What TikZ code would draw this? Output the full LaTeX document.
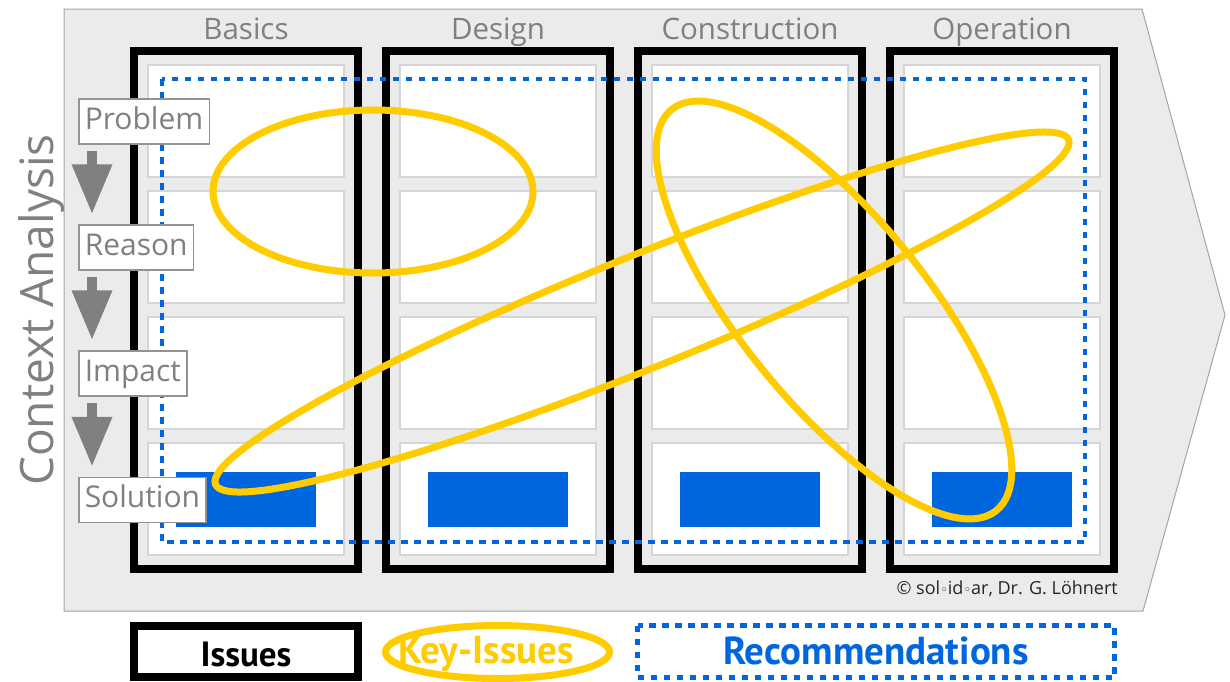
\documentclass[tikz,border=0pt]{standalone}
\usepackage{fontspec}
\setmainfont{Open Sans}
\newfontfamily\ptsans{PT Sans}
\newfontfamily\dejavu{DejaVu Sans}
\usetikzlibrary{arrows.meta,calc}
\definecolor{bggray}{RGB}{235,235,235}
\definecolor{bgline}{RGB}{165,165,165}
\definecolor{cellline}{RGB}{214,214,214}
\definecolor{txtgray}{RGB}{128,128,128}
\definecolor{keyyellow}{RGB}{255,204,0}
\definecolor{recblue}{RGB}{0,102,221}
\begin{document}
\begin{tikzpicture}[x=1pt,y=-1pt,
  title/.style={text=txtgray, font=\fontsize{29.5}{29.5}\selectfont, anchor=base, inner sep=0pt},
  stagebox/.style={draw=txtgray!85, line width=1.5pt, fill=white, text=txtgray,
    font=\fontsize{30}{30}\selectfont, minimum height=45pt, text height=22pt, text depth=7pt,
    inner xsep=6pt, inner ysep=0pt, anchor=west},
  column/.style={draw=black, line width=8pt},
  cell/.style={draw=cellline, line width=1.2pt, fill=white},
  solbox/.style={fill=recblue},
  keyell/.style={draw=keyyellow, line width=7pt},
  recline/.style={draw=recblue, line width=4.5pt, dash pattern=on 6.5pt off 6.5pt},
  flowarrow/.style={draw=txtgray, line width=10pt, -{Triangle[width=38pt,length=50pt]}},
  legendtxt/.style={font=\ptsans\bfseries, inner sep=0pt},
  ring/.style={},
]
\useasboundingbox (0,0) rectangle (1230,681);
% background arrow shape
\fill[bggray, draw=bgline, line width=1pt] (64,9) -- (1142,9) -- (1225,315) -- (1143,611) -- (64,611) -- cycle;

% columns
\foreach \t [count=\i from 0] in {Basics,Design,Construction,Operation}{
  \pgfmathsetmacro{\xo}{130+252*\i}
  \node[title] (title\i) at (\xo+116,39) {\t};
  \draw[column] (\xo+4,51) rectangle (\xo+228,569);
  \foreach \k in {0,1,2,3}{
    \pgfmathsetmacro{\yo}{65+126*\k}
    \draw[cell] (\xo+18,\yo) rectangle (\xo+214,\yo+112);
  }
  \fill[solbox] (\xo+46,472) rectangle (\xo+186,527);
}

% recommendations dotted frame
\draw[recline] (162,79) rectangle (1085,542);

% context analysis
\node[text=txtgray, font=\fontsize{46}{46}\selectfont, rotate=90, anchor=base, inner sep=0pt] (ctx) at (53,310) {Context Analysis};

% stage boxes
\node[stagebox] (prob) at (78,121.5) {Problem};
\node[stagebox] (reas) at (78,247.5) {Reason};
\node[stagebox] (imp) at (78,373.5) {Impact};
\node[stagebox] (sol) at (78,500) {Solution};
\draw[flowarrow] ($(prob.south west)+(14,6)$) -- ($(reas.north west)+(14,-10)$);
\draw[flowarrow] ($(reas.south west)+(14,6)$) -- ($(imp.north west)+(14,-10)$);
\draw[flowarrow] ($(imp.south west)+(14,6)$) -- ($(sol.north west)+(14,-10)$);

% key issue ellipses
\draw[keyell] (373,191.5) ellipse [x radius=160pt, y radius=81.5pt];
\draw[keyell, rotate around={22:(642,312)}] (642,312) ellipse [x radius=460pt, y radius=56pt];
\draw[keyell, rotate around={-51:(834,310)}] (834,310) ellipse [x radius=258pt, y radius=93pt];

% copyright
\node[anchor=base east, inner sep=0pt, text=black!85, font=\fontsize{18}{18}\selectfont] (copy) at (1118,594)
  {© sol{\dejavu\fontsize{13}{13}\selectfont ◦}id{\dejavu\fontsize{13}{13}\selectfont ◦}ar, Dr. G. Löhnert};

% legend
\draw[column] (134,626) rectangle (358,677);
\node[legendtxt, font=\ptsans\bfseries\fontsize{35}{35}\selectfont, anchor=base] (lissues) at (246,666) {Issues};
\draw[keyell] (497.5,652) ellipse [x radius=112pt, y radius=26.5pt];
\node[legendtxt, text=keyyellow, font=\ptsans\bfseries\fontsize{39}{39}\selectfont, anchor=base] (lkey) at (486,663) {Key-Issues};
\draw[recline, line width=5pt] (637.5,625.5) rectangle (1114.5,677.5);
\node[legendtxt, text=recblue, font=\ptsans\bfseries\fontsize{39}{39}\selectfont, anchor=base] (lrec) at (876,664) {Recommendations};
\end{tikzpicture}
\end{document}
